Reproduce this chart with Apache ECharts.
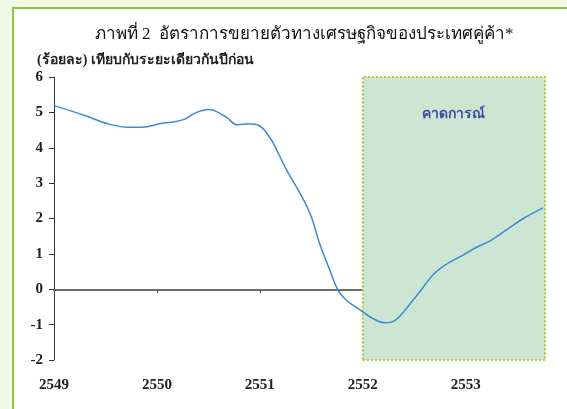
<!DOCTYPE html>
<html>
<head>
<meta charset="utf-8">
<script src="https://cdn.jsdelivr.net/npm/echarts@6/dist/echarts.min.js"></script>
<style>
  html, body { margin: 0; padding: 0; }
  body { width: 567px; height: 409px; background: #f2f8e8; position: relative; overflow: hidden; }
  #panel { position: absolute; left: 12px; top: 7px; width: 600px; height: 450px; background: #fff;
           border-top: 2px solid #8cc63f; border-left: 2px solid #8cc63f; }
  #chart { position: absolute; left: 0; top: 0; width: 567px; height: 409px; }
</style>
</head>
<body>
<div id="panel"></div>
<div id="chart"></div>
<script>
// ภาพที่ 2 - อัตราการขยายตัวทางเศรษฐกิจของประเทศคู่ค้า (ร้อยละ, yoy)
const years = [
  2549.00, 2549.30, 2549.53, 2549.72, 2549.85, 2550.05, 2550.14, 2550.27, 2550.37, 2550.50,
  2550.56, 2550.68, 2550.78, 2550.85, 2550.93, 2551.02, 2551.10, 2551.13, 2551.26, 2551.40,
  2551.50, 2551.58, 2551.68, 2551.76, 2551.84, 2551.92, 2552.00, 2552.10, 2552.21, 2552.28,
  2552.36, 2552.46, 2552.54, 2552.59, 2552.68, 2552.78, 2552.97, 2553.10, 2553.25, 2553.43,
  2553.56, 2553.75
];
const growth = [
  5.19, 4.91, 4.67, 4.58, 4.58, 4.69, 4.72, 4.81, 4.98, 5.08,
  5.05, 4.85, 4.65, 4.67, 4.67, 4.57, 4.27, 4.13, 3.37, 2.66,
  2.05, 1.29, 0.54, -0.03, -0.31, -0.48, -0.64, -0.83, -0.95, -0.93,
  -0.76, -0.41, -0.12, 0.07, 0.40, 0.65, 0.96, 1.18, 1.39, 1.75,
  2.00, 2.30
];
const yTicks = [-2, -1, 0, 1, 2, 3, 4, 5, 6];
const xYears = [2549, 2550, 2551, 2552, 2553];
const forecastStart = 2552;
const xEnd = 2553.77;

const title = 'ภาพที่ 2  อัตราการขยายตัวทางเศรษฐกิจของประเทศคู่ค้า*';
const unitText = '(ร้อยละ) เทียบกับระยะเดียวกันปีก่อน';
const forecastText = 'คาดการณ์';

const serif = '"Liberation Serif", "DejaVu Serif", serif';
const chart = echarts.init(document.getElementById('chart'));

chart.setOption({
  backgroundColor: 'transparent',
  animation: false,
  title: [
    { text: title, left: 299, top: 21, textAlign: 'center',
      textStyle: { fontFamily: serif, fontSize: 17, fontWeight: 'normal', color: '#111' } },
    { text: unitText, left: 32, top: 48,
      textStyle: { fontFamily: serif, fontSize: 14, fontWeight: 'bold', color: '#222' } }
  ],
  grid: { left: 54, right: 22, top: 77, bottom: 49 },
  xAxis: [
    {
      type: 'value', min: xYears[0], max: xEnd, interval: 1,
      axisLine: { onZero: true, lineStyle: { color: '#6b6b6b', width: 2 } },
      axisTick: { show: true, length: 4, customValues: xYears, lineStyle: { color: '#555', width: 1 } },
      axisLabel: { show: false },
      splitLine: { show: false }
    },
    {
      type: 'value', min: xYears[0], max: xEnd, interval: 1, position: 'bottom',
      axisLine: { show: false, onZero: false },
      axisTick: { show: false },
      axisLabel: {
        margin: 18, fontFamily: serif, fontSize: 15, fontWeight: 'bold', color: '#222',
        customValues: xYears,
        formatter: v => String(Math.round(v))
      },
      splitLine: { show: false }
    }
  ],
  yAxis: {
    type: 'value', min: yTicks[0], max: yTicks[yTicks.length - 1], interval: 1,
    axisLine: { show: true, lineStyle: { color: '#333', width: 1 } },
    axisTick: { show: true, length: 5, lineStyle: { color: '#333' } },
    axisLabel: { margin: 11, fontFamily: serif, fontSize: 15, fontWeight: 'bold', color: '#222' },
    splitLine: { show: false }
  },
  series: [{
    type: 'line',
    xAxisIndex: 0,
    data: years.map((y, i) => [y, growth[i]]),
    smooth: 0.4,
    showSymbol: false,
    lineStyle: { color: '#3a8ad6', width: 1.5 },
    z: 3,
    markArea: {
      silent: true,
      itemStyle: { color: '#cce6d3', borderColor: '#a8cc3c', borderType: 'dotted', borderWidth: 2 },
      label: {
        show: true, position: 'insideTop', distance: 31,
        fontFamily: serif, fontSize: 14, fontWeight: 'bold', color: '#3b4fa0'
      },
      data: [[
        { name: forecastText, xAxis: forecastStart, yAxis: yTicks[0] },
        { xAxis: xEnd, yAxis: yTicks[yTicks.length - 1] }
      ]]
    }
  }]
});
</script>
</body>
</html>
